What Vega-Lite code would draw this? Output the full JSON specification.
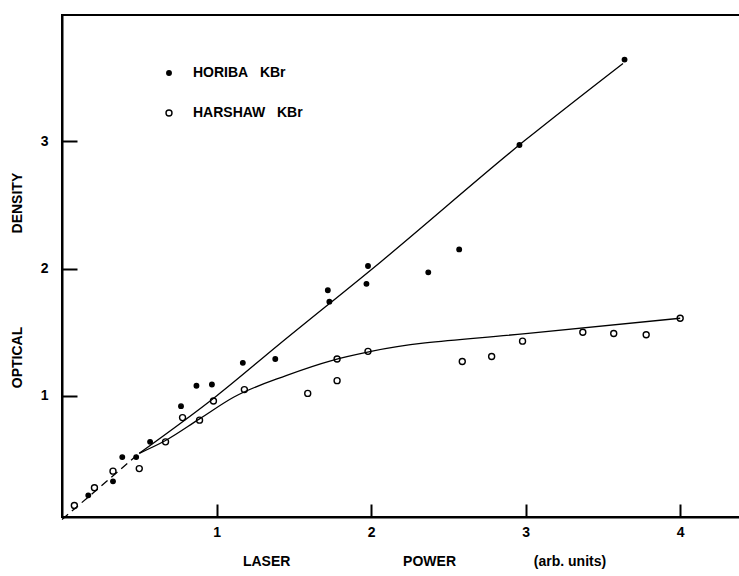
{
  "$schema": "https://vega.github.io/schema/vega-lite/v6.json",
  "width": 680,
  "height": 502,
  "autosize": "none",
  "padding": {"left": 62, "top": 15, "right": 0, "bottom": 59},
  "background": "white",
  "config": {
    "view": {"stroke": "black", "strokeWidth": 2},
    "font": "Liberation Sans"
  },
  "datasets": {
    "points": [
      {"x": 0.17, "y": 0.22, "s": "HORIBA KBr"},
      {"x": 0.33, "y": 0.33, "s": "HORIBA KBr"},
      {"x": 0.39, "y": 0.52, "s": "HORIBA KBr"},
      {"x": 0.48, "y": 0.52, "s": "HORIBA KBr"},
      {"x": 0.57, "y": 0.64, "s": "HORIBA KBr"},
      {"x": 0.77, "y": 0.92, "s": "HORIBA KBr"},
      {"x": 0.87, "y": 1.08, "s": "HORIBA KBr"},
      {"x": 0.97, "y": 1.09, "s": "HORIBA KBr"},
      {"x": 1.17, "y": 1.26, "s": "HORIBA KBr"},
      {"x": 1.38, "y": 1.29, "s": "HORIBA KBr"},
      {"x": 1.72, "y": 1.83, "s": "HORIBA KBr"},
      {"x": 1.73, "y": 1.74, "s": "HORIBA KBr"},
      {"x": 1.98, "y": 2.02, "s": "HORIBA KBr"},
      {"x": 1.97, "y": 1.88, "s": "HORIBA KBr"},
      {"x": 2.37, "y": 1.97, "s": "HORIBA KBr"},
      {"x": 2.57, "y": 2.15, "s": "HORIBA KBr"},
      {"x": 2.96, "y": 2.97, "s": "HORIBA KBr"},
      {"x": 3.64, "y": 3.64, "s": "HORIBA KBr"},
      {"x": 0.08, "y": 0.14, "s": "HARSHAW KBr"},
      {"x": 0.21, "y": 0.28, "s": "HARSHAW KBr"},
      {"x": 0.33, "y": 0.41, "s": "HARSHAW KBr"},
      {"x": 0.50, "y": 0.43, "s": "HARSHAW KBr"},
      {"x": 0.67, "y": 0.64, "s": "HARSHAW KBr"},
      {"x": 0.78, "y": 0.83, "s": "HARSHAW KBr"},
      {"x": 0.89, "y": 0.81, "s": "HARSHAW KBr"},
      {"x": 0.98, "y": 0.96, "s": "HARSHAW KBr"},
      {"x": 1.18, "y": 1.05, "s": "HARSHAW KBr"},
      {"x": 1.59, "y": 1.02, "s": "HARSHAW KBr"},
      {"x": 1.78, "y": 1.29, "s": "HARSHAW KBr"},
      {"x": 1.78, "y": 1.12, "s": "HARSHAW KBr"},
      {"x": 1.98, "y": 1.35, "s": "HARSHAW KBr"},
      {"x": 2.59, "y": 1.27, "s": "HARSHAW KBr"},
      {"x": 2.78, "y": 1.31, "s": "HARSHAW KBr"},
      {"x": 2.98, "y": 1.43, "s": "HARSHAW KBr"},
      {"x": 3.37, "y": 1.50, "s": "HARSHAW KBr"},
      {"x": 3.57, "y": 1.49, "s": "HARSHAW KBr"},
      {"x": 3.78, "y": 1.48, "s": "HARSHAW KBr"},
      {"x": 4.00, "y": 1.61, "s": "HARSHAW KBr"}
    ],
    "fits": [
      {"x": 0.0, "y": 0.03, "c": "low"},
      {"x": 0.25, "y": 0.29, "c": "low"},
      {"x": 0.5, "y": 0.55, "c": "low"},
      {"x": 0.5, "y": 0.55, "c": "HORIBA"},
      {"x": 1.0, "y": 1.0, "c": "HORIBA"},
      {"x": 1.4, "y": 1.4, "c": "HORIBA"},
      {"x": 2.06, "y": 2.05, "c": "HORIBA"},
      {"x": 3.0, "y": 3.01, "c": "HORIBA"},
      {"x": 3.63, "y": 3.61, "c": "HORIBA"},
      {"x": 0.5, "y": 0.55, "c": "HARSHAW"},
      {"x": 0.67, "y": 0.65, "c": "HARSHAW"},
      {"x": 0.89, "y": 0.82, "c": "HARSHAW"},
      {"x": 1.11, "y": 0.99, "c": "HARSHAW"},
      {"x": 1.45, "y": 1.16, "c": "HARSHAW"},
      {"x": 1.75, "y": 1.28, "c": "HARSHAW"},
      {"x": 2.0, "y": 1.35, "c": "HARSHAW"},
      {"x": 3.0, "y": 1.49, "c": "HARSHAW"},
      {"x": 4.0, "y": 1.61, "c": "HARSHAW"}
    ]
  },
  "layer": [
    {
      "data": {"name": "points"},
      "mark": {"type": "point", "filled": true, "stroke": "black", "strokeWidth": 1.4, "opacity": 1},
      "encoding": {
        "x": {
          "field": "x", "type": "quantitative",
          "scale": {"domain": [0, 4.4], "nice": false, "zero": false},
          "axis": {
            "values": [1, 2, 3, 4], "format": "d", "grid": false,
            "domainColor": "black", "domainWidth": 2,
            "tickColor": "black", "tickWidth": 2, "tickSize": -13,
            "labelPadding": 21, "labelFont": "Liberation Sans", "labelFontWeight": "bold", "labelFontSize": 14, "labelColor": "black",
            "title": "LASER\u00a0\u00a0\u00a0\u00a0\u00a0\u00a0\u00a0\u00a0\u00a0\u00a0\u00a0\u00a0\u00a0\u00a0\u00a0\u00a0\u00a0\u00a0\u00a0\u00a0\u00a0\u00a0\u00a0\u00a0\u00a0\u00a0\u00a0\u00a0\u00a0POWER\u00a0\u00a0\u00a0\u00a0\u00a0\u00a0\u00a0\u00a0\u00a0\u00a0\u00a0\u00a0\u00a0\u00a0\u00a0\u00a0\u00a0\u00a0\u00a0\u00a0(arb. units)",
            "titleFont": "Liberation Sans", "titleFontSize": 14, "titleFontWeight": "bold", "titleColor": "black",
            "titleX": 362, "titleY": 44, "titleAlign": "center", "titleBaseline": "middle"
          }
        },
        "y": {
          "field": "y", "type": "quantitative",
          "scale": {"domain": [0.05, 3.99], "nice": false, "zero": false},
          "axis": {
            "values": [1, 2, 3], "format": "d", "grid": false,
            "domainColor": "black", "domainWidth": 2,
            "tickColor": "black", "tickWidth": 2, "tickSize": -15,
            "labelPadding": 29, "labelFont": "Liberation Sans", "labelFontWeight": "bold", "labelFontSize": 14, "labelColor": "black",
            "title": "OPTICAL\u00a0\u00a0\u00a0\u00a0\u00a0\u00a0\u00a0\u00a0\u00a0\u00a0\u00a0\u00a0\u00a0\u00a0\u00a0\u00a0\u00a0\u00a0\u00a0\u00a0\u00a0\u00a0\u00a0\u00a0DENSITY",
            "titleFont": "Liberation Sans", "titleFontSize": 14, "titleFontWeight": "bold", "titleColor": "black",
            "titleAngle": -90, "titleX": -45, "titleY": 265, "titleAlign": "center", "titleBaseline": "middle"
          }
        },
        "fill": {
          "field": "s", "type": "nominal",
          "scale": {"domain": ["HORIBA KBr", "HARSHAW KBr"], "range": ["black", "white"]},
          "legend": {
            "orient": "none", "legendX": 100, "legendY": 51, "title": null,
            "symbolStrokeColor": "black", "symbolStrokeWidth": 1.4, "symbolType": "circle",
            "labelFont": "Liberation Sans", "labelFontWeight": "bold", "labelFontSize": 14, "labelColor": "black",
            "labelOffset": 17, "rowPadding": 26,
            "labelExpr": "replace(datum.label, ' ', '\u00a0\u00a0\u00a0')"
          }
        },
        "size": {
          "field": "s", "type": "nominal",
          "scale": {"domain": ["HORIBA KBr", "HARSHAW KBr"], "range": [20, 36]}
        }
      }
    },
    {
      "data": {"name": "fits"},
      "transform": [{"filter": "datum.c == 'low'"}],
      "mark": {"type": "line", "color": "black", "strokeWidth": 1.3, "strokeDash": [8, 5]},
      "encoding": {
        "x": {"field": "x", "type": "quantitative"},
        "y": {"field": "y", "type": "quantitative"}
      }
    },
    {
      "data": {"name": "fits"},
      "transform": [{"filter": "datum.c != 'low'"}],
      "mark": {"type": "line", "color": "black", "strokeWidth": 1.3, "interpolate": "monotone"},
      "encoding": {
        "x": {"field": "x", "type": "quantitative"},
        "y": {"field": "y", "type": "quantitative"},
        "detail": {"field": "c", "type": "nominal"}
      }
    }
  ]
}
